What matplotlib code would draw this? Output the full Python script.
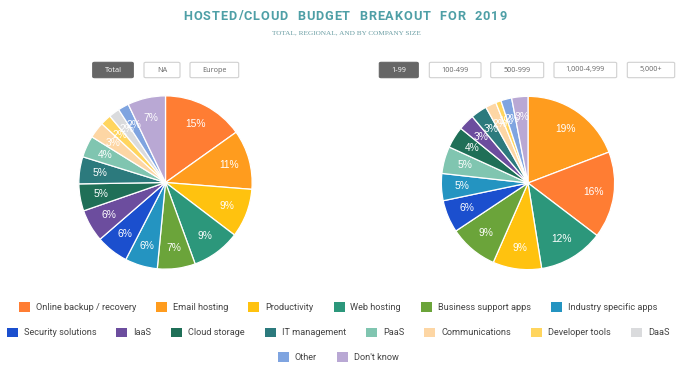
import matplotlib
matplotlib.use("Agg")
import matplotlib.pyplot as plt
from matplotlib.patches import FancyBboxPatch, Patch

W, H = 680, 369
DPI = 100

categories = ["Online backup / recovery", "Email hosting", "Productivity", "Web hosting",
              "Business support apps", "Industry specific apps", "Security solutions", "IaaS",
              "Cloud storage", "IT management", "PaaS", "Communications", "Developer tools",
              "DaaS", "Other", "Don't know"]
colors = ["#FF7D33", "#FF9C1E", "#FFC20F", "#2C977B", "#6BA43A", "#2494C1", "#1B4FCE",
          "#6C4D9E", "#1F6F57", "#2C7A7D", "#80C5B0", "#FDD6A4", "#FFD55E", "#DADBDD",
          "#7FA4E0", "#B9A8D4"]
color_map = dict(zip(categories, colors))

# Left pie: Total
total_order = ["Online backup / recovery", "Email hosting", "Productivity", "Web hosting",
               "Business support apps", "Industry specific apps", "Security solutions", "IaaS",
               "Cloud storage", "IT management", "PaaS", "Communications", "Developer tools",
               "DaaS", "Other", "Don't know"]
total_values = [15, 11, 9, 9, 7, 6, 6, 6, 5, 5, 4, 3, 2, 2, 2, 7]

# Right pie: company size 1-99
small_order = ["Email hosting", "Online backup / recovery", "Web hosting", "Productivity",
               "Business support apps", "Security solutions", "Industry specific apps", "PaaS",
               "Cloud storage", "IaaS", "IT management", "Communications", "Developer tools",
               "Other", "Don't know"]
small_values = [19, 16, 12, 9, 9, 6, 5, 5, 4, 3, 3, 2, 1, 2, 3]

left_buttons = ["Total", "NA", "Europe"]
right_buttons = ["1-99", "100-499", "500-999", "1,000-4,999", "5,000+"]

title = "HOSTED/CLOUD BUDGET BREAKOUT FOR 2019"
subtitle = "TOTAL, REGIONAL, AND BY COMPANY SIZE"

fig = plt.figure(figsize=(W / DPI, H / DPI), dpi=DPI)
fig.patch.set_facecolor("white")


def fx(px):
    return px / W


def fy(py):
    return (H - py) / H


def spaced_text(s, cx, baseline_py, spacing_px, **kw):
    renderer = fig.canvas.get_renderer()
    widths = []
    for ch in s:
        t = fig.text(0, 0, ch if ch != " " else "n", **kw)
        widths.append(t.get_window_extent(renderer).width)
        t.remove()
    total = sum(widths) + spacing_px * (len(s) - 1)
    x = cx - total / 2
    for ch, w in zip(s, widths):
        if ch != " ":
            fig.text(fx(x), fy(baseline_py), ch, ha="left", va="baseline", **kw)
        x += w + spacing_px


spaced_text(title, 345, 19.5, 0.95, fontsize=9.2, fontweight="bold",
            color="#4E9FA6", family="Roboto")
fig.text(fx(346), fy(34), subtitle, ha="center", va="baseline", fontsize=5.2,
         color="#6A9DA3", family="Liberation Serif")


def draw_pie(cx, cy, r, order, values):
    ax = fig.add_axes([fx(cx - r), fy(cy + r), 2 * r / W, 2 * r / H])
    cols = [color_map[c] for c in order]
    wedges, texts, autotexts = ax.pie(
        values, colors=cols, startangle=90, counterclock=False,
        autopct="%d%%", pctdistance=0.76, radius=1.0,
        wedgeprops=dict(edgecolor="white", linewidth=0.9),
        textprops=dict(color="white", fontsize=7.4, family="Liberation Sans"))
    for at, v in zip(autotexts, values):
        at.set_text(f"{v}%")
    ax.set_xlim(-1.01, 1.01)
    ax.set_ylim(-1.01, 1.01)
    ax.set_aspect("equal")
    ax.axis("off")


draw_pie(165.5, 182.5, 87.5, total_order, total_values)
draw_pie(528, 183, 87.5, small_order, small_values)

# Buttons
left_btn_x = [(92.7, 133.3), (144, 180), (190, 238.7)]
right_btn_x = [(379.3, 418.3), (429.3, 481), (490.7, 543.7), (554, 616.7), (627.3, 674.7)]
btn_y = (62.3, 77.7)


def draw_buttons(labels, xs, active=0):
    for i, (lab, (x0, x1)) in enumerate(zip(labels, xs)):
        is_active = i == active
        p = FancyBboxPatch((fx(x0), fy(btn_y[1])), fx(x1 - x0), (btn_y[1] - btn_y[0]) / H,
                           boxstyle="round,pad=0,rounding_size=0.003",
                           transform=fig.transFigure,
                           facecolor="#666666" if is_active else "white",
                           edgecolor="#666666" if is_active else "#D0D0D0",
                           linewidth=0.8)
        fig.add_artist(p)
        fig.text(fx((x0 + x1) / 2), fy((btn_y[0] + btn_y[1]) / 2), lab,
                 ha="center", va="center", fontsize=5.2, family="Open Sans",
                 color="white" if is_active else "#666666")


draw_buttons(left_buttons, left_btn_x)
draw_buttons(right_buttons, right_btn_x)

# Legend rows
rows = [categories[0:6], categories[6:14], categories[14:16]]
row_y = [307, 332.5, 357]
fs = 6.6
fs_px = fs / 72 * DPI
for row, yy in zip(rows, row_y):
    handles = [Patch(facecolor=color_map[c], edgecolor="none") for c in row]
    fig.legend(handles, row, loc="center", bbox_to_anchor=(fx(338), fy(yy)),
               ncol=len(row), frameon=False,
               prop=dict(family="Roboto", size=fs),
               labelcolor="#444444",
               handlelength=11 / fs_px, handleheight=11 / fs_px,
               handletextpad=6 / fs_px, columnspacing=20 / fs_px,
               borderpad=0, borderaxespad=0)

fig.savefig("out.png", dpi=DPI, facecolor="white")
